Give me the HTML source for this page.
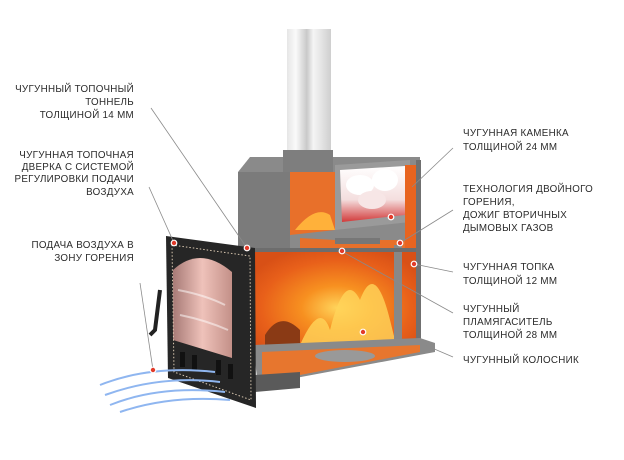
<!DOCTYPE html>
<html><head><meta charset="utf-8"><style>
html,body{margin:0;padding:0;background:#fff;width:624px;height:460px;overflow:hidden}
svg{display:block}
text{font-family:"Liberation Sans",sans-serif;font-size:9.8px;letter-spacing:0.3px;fill:#2a2a2a}
</style></head><body>
<svg width="624" height="460" viewBox="0 0 624 460">
<defs>
<linearGradient id="pipe" x1="0" x2="1"><stop offset="0" stop-color="#e6e6e6"/><stop offset=".2" stop-color="#fafafa"/><stop offset=".45" stop-color="#c9c9c9"/><stop offset=".6" stop-color="#f5f5f5"/><stop offset="1" stop-color="#cfcfcf"/></linearGradient>
<radialGradient id="fire" cx=".5" cy=".55" r=".6"><stop offset="0" stop-color="#ffd35a"/><stop offset=".35" stop-color="#f79020"/><stop offset=".75" stop-color="#e8601a"/><stop offset="1" stop-color="#d85016"/></radialGradient>
<linearGradient id="glass" x1="0" x2="1"><stop offset="0" stop-color="#a77a76"/><stop offset=".5" stop-color="#efc2ba"/><stop offset="1" stop-color="#c39088"/></linearGradient>
<linearGradient id="stone" x1="0" y1="0" x2="0" y2="1"><stop offset="0" stop-color="#ffffff"/><stop offset=".6" stop-color="#f4dede"/><stop offset="1" stop-color="#d23a3a"/></linearGradient>
</defs>
<rect x="287" y="29" width="44" height="132" fill="url(#pipe)"/>
<polygon points="238,172 250,157 420,157 420,250 238,250" fill="#8a8a8a"/>
<polygon points="238,172 290,172 290,250 238,250" fill="#7b7b7b"/>
<rect x="283" y="150" width="50" height="22" fill="#7e7e7e"/>
<polygon points="290,172 335,172 335,230 290,235" fill="#e8702a"/>
<path d="M295,230 Q315,205 330,215 L335,230 Z" fill="#ffb13a"/>
<polygon points="335,165 410,160 410,222 335,230" fill="#9a9a9a"/>
<polygon points="340,170 405,166 405,215 342,222" fill="url(#stone)"/>
<ellipse cx="360" cy="185" rx="14" ry="10" fill="#fff"/><ellipse cx="385" cy="180" rx="13" ry="11" fill="#fff"/><ellipse cx="372" cy="200" rx="14" ry="9" fill="#f7e6e6"/>
<rect x="405" y="165" width="12" height="90" fill="#e8641f"/>
<polygon points="253,250 420,250 420,345 253,355" fill="url(#fire)"/>
<polygon points="300,238 335,240 405,240 405,250 300,250" fill="#e8702a"/>
<rect x="335" y="238" width="45" height="6" fill="#777"/>
<path d="M300,345 Q320,300 330,330 Q345,270 360,300 Q375,260 390,320 L395,340 Z" fill="#ffd45a" opacity=".8"/>
<path d="M265,335 Q280,310 300,330 L300,345 L265,348 Z" fill="#8a3a15"/>
<rect x="394" y="245" width="8" height="95" fill="#888"/>
<rect x="253" y="248" width="167" height="4" fill="#6d6d6d"/>
<rect x="416" y="160" width="5" height="190" fill="#707070"/>
<polygon points="253,345 420,338 435,343 435,352 258,385" fill="#8a8a8a"/>
<polygon points="262,352 420,345 420,352 300,375 262,378" fill="#e7762e"/>
<ellipse cx="345" cy="356" rx="30" ry="6" fill="#999"/>
<polygon points="255,375 300,372 300,388 255,392" fill="#5a5a5a"/>
<polygon points="166,236 255,248 256,408 168,378" fill="#262626"/>
<path d="M173,340 L173,270 Q200,245 232,272 L232,358 Z" fill="url(#glass)"/>
<path d="M178,290 Q205,295 225,305 M180,315 Q205,320 228,330" stroke="#fff" stroke-width="2" fill="none" opacity=".5"/>
<polygon points="172,245 250,256 251,400 174,372" fill="none" stroke="#d8c7b0" stroke-width="1" stroke-dasharray="1.5,2"/>
<rect x="180" y="352" width="5" height="15" fill="#111"/><rect x="192" y="355" width="5" height="15" fill="#111"/><rect x="216" y="360" width="5" height="15" fill="#111"/><rect x="228" y="364" width="5" height="15" fill="#111"/>
<path d="M160,290 L155,330 L150,335" stroke="#222" stroke-width="4" fill="none"/>
<path d="M100,385 Q150,365 215,372 M105,395 Q160,375 220,382 M110,405 Q160,385 225,392 M120,412 Q170,395 230,400" stroke="#8fb6f0" stroke-width="2" fill="none"/>
<g stroke="#8a8a8a" stroke-width=".8">
<line x1="151" y1="108" x2="247" y2="248"/>
<line x1="149" y1="187" x2="174" y2="243"/>
<line x1="140" y1="283" x2="153" y2="370"/>
<line x1="453" y1="148" x2="412" y2="187"/>
<line x1="453" y1="210" x2="400" y2="243"/>
<line x1="453" y1="272" x2="414" y2="264"/>
<line x1="453" y1="313" x2="343" y2="252"/>
<line x1="453" y1="357" x2="425" y2="345"/>
</g>
<g fill="#e23b2a" stroke="#fff" stroke-width="1.2">
<circle cx="174" cy="243" r="2.8"/><circle cx="247" cy="248" r="2.8"/><circle cx="391" cy="217" r="2.8"/><circle cx="342" cy="251" r="2.8"/><circle cx="400" cy="243" r="2.8"/><circle cx="414" cy="264" r="2.8"/><circle cx="363" cy="332" r="2.8"/><circle cx="153" cy="370" r="2.8"/>
</g>
<g text-anchor="end">
<text x="134" y="92">ЧУГУННЫЙ ТОПОЧНЫЙ</text>
<text x="134" y="105">ТОННЕЛЬ</text>
<text x="134" y="118">ТОЛЩИНОЙ 14 ММ</text>
<text x="134" y="158">ЧУГУННАЯ ТОПОЧНАЯ</text>
<text x="134" y="170">ДВЕРКА С СИСТЕМОЙ</text>
<text x="134" y="182">РЕГУЛИРОВКИ ПОДАЧИ</text>
<text x="134" y="195">ВОЗДУХА</text>
<text x="134" y="248">ПОДАЧА ВОЗДУХА В</text>
<text x="134" y="261">ЗОНУ ГОРЕНИЯ</text>
</g>
<text x="463" y="136">ЧУГУННАЯ КАМЕНКА</text>
<text x="463" y="150">ТОЛЩИНОЙ 24 ММ</text>
<text x="463" y="192">ТЕХНОЛОГИЯ ДВОЙНОГО</text>
<text x="463" y="205">ГОРЕНИЯ,</text>
<text x="463" y="218">ДОЖИГ ВТОРИЧНЫХ</text>
<text x="463" y="231">ДЫМОВЫХ ГАЗОВ</text>
<text x="463" y="270">ЧУГУННАЯ ТОПКА</text>
<text x="463" y="284">ТОЛЩИНОЙ 12 ММ</text>
<text x="463" y="312">ЧУГУННЫЙ</text>
<text x="463" y="325">ПЛАМЯГАСИТЕЛЬ</text>
<text x="463" y="338">ТОЛЩИНОЙ 28 ММ</text>
<text x="463" y="363">ЧУГУННЫЙ КОЛОСНИК</text>
</svg>
</body></html>
